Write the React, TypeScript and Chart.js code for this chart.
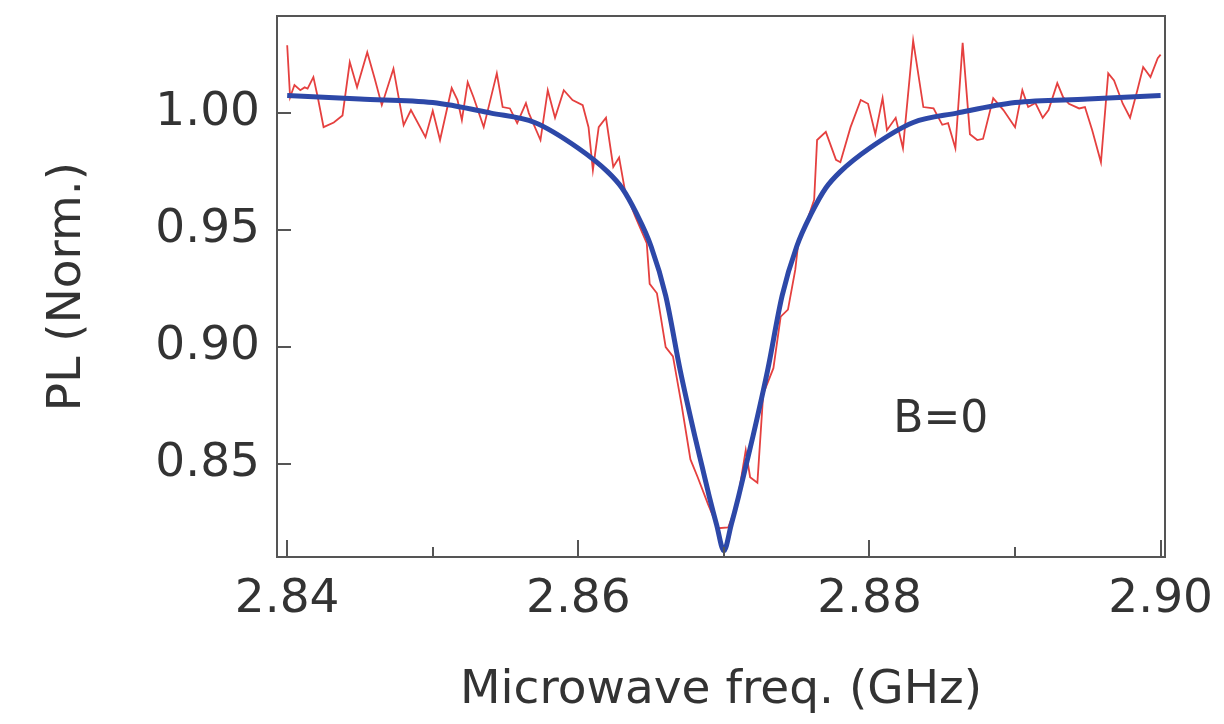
import React, { useEffect, useRef } from "react";
import { Chart, registerables } from "chart.js";

Chart.register(...registerables);

// ---- Data ----
const xTickValues = [2.84, 2.86, 2.88, 2.9];
const xMinorTickValues = [2.85, 2.87, 2.89];
const yTickValues = [0.85, 0.9, 0.95, 1.0];

const measuredFreq = [
  2.84, 2.8402, 2.8405, 2.8409, 2.8412, 2.8414, 2.8418, 2.8421, 2.8425, 2.8432,
  2.8438, 2.8443, 2.8448, 2.8455, 2.846, 2.8465, 2.8473, 2.848, 2.8485, 2.8495,
  2.85, 2.8505, 2.8513, 2.8517, 2.852, 2.8524, 2.8528, 2.8535, 2.8544, 2.8548,
  2.8553, 2.8558, 2.8564, 2.8566, 2.8574, 2.8579, 2.8584, 2.859, 2.8596, 2.8603,
  2.8607, 2.861, 2.8614, 2.8619, 2.8624, 2.8628, 2.8632, 2.8639, 2.8647, 2.8649,
  2.8654, 2.866, 2.8665, 2.8671, 2.8677, 2.8682, 2.8689, 2.8696, 2.8703, 2.8709,
  2.8715, 2.8718, 2.8723, 2.8727, 2.8734, 2.8739, 2.8744, 2.8749, 2.8751, 2.8756,
  2.8762, 2.8764, 2.877, 2.8777, 2.878, 2.8787, 2.8794, 2.8799, 2.8804, 2.8809,
  2.8812, 2.8818, 2.8823, 2.883, 2.8837, 2.8844, 2.885, 2.8854, 2.8859, 2.8864,
  2.8869, 2.8874, 2.8878, 2.8885, 2.8892, 2.89, 2.8905, 2.8909, 2.8914, 2.8919,
  2.8923, 2.8929, 2.8933, 2.8937, 2.8944, 2.8948, 2.8953, 2.8959, 2.8964, 2.8968,
  2.8974, 2.8979, 2.8984, 2.8988, 2.8993, 2.8998, 2.9,
];
const measuredPL = [
  1.029, 1.0068, 1.012, 1.0098, 1.011, 1.0105, 1.0154, 1.0068, 0.994, 0.996,
  0.999, 1.0218, 1.011, 1.026, 1.015, 1.0034, 1.019, 0.9949, 1.0013, 0.9897,
  1.001, 0.9885, 1.0107, 1.0056, 0.997, 1.0132, 1.0068, 0.994, 1.017, 1.0026,
  1.002, 0.9957, 1.0043, 1.0, 0.9885, 1.0098, 0.998, 1.0098, 1.0056, 1.0034,
  0.994, 0.9756, 0.994, 0.998, 0.977, 0.981, 0.967, 0.956, 0.9444, 0.927,
  0.923, 0.9, 0.896, 0.875, 0.852, 0.8444, 0.833, 0.8226, 0.823, 0.833,
  0.856, 0.8444, 0.842, 0.88, 0.891, 0.913, 0.916, 0.933, 0.944, 0.952,
  0.963, 0.9885, 0.992, 0.98, 0.979, 0.994, 1.0056, 1.004, 0.991, 1.0064,
  0.9927, 0.998, 0.985, 1.031, 1.0026, 1.002, 0.995, 0.9957, 0.985, 1.03,
  0.991, 0.9885, 0.989, 1.0064, 1.0013, 0.994, 1.0098, 1.0026, 1.0043, 0.998,
  1.0013, 1.0128, 1.0068, 1.004, 1.002, 1.0026, 0.9927, 0.979, 1.017, 1.014,
  1.004, 0.998, 1.0098, 1.0197, 1.0154, 1.0235, 1.025,
];

const fitFreq = [
  2.84, 2.845, 2.85, 2.854, 2.857, 2.86, 2.862, 2.863, 2.864, 2.865, 2.866,
  2.867, 2.868, 2.8685, 2.869, 2.8695, 2.87, 2.8705, 2.871, 2.8715, 2.872,
  2.873, 2.874, 2.875, 2.876, 2.877, 2.878, 2.88, 2.883, 2.886, 2.89, 2.895, 2.9,
];
const fitPL = [
  1.0075, 1.006, 1.0045, 1.0, 0.996, 0.985, 0.975, 0.968, 0.957, 0.943, 0.922,
  0.89, 0.862, 0.849, 0.836, 0.824, 0.813, 0.824, 0.836, 0.849, 0.862,
  0.89, 0.922, 0.943, 0.957, 0.968, 0.975, 0.985, 0.996, 1.0, 1.0045, 1.006, 1.0075,
];

const annotationLabel = "B=0";
const annotationFreq = 2.8849;
const annotationPL = 0.8684;

const xAxisTitle = "Microwave freq. (GHz)";
const yAxisTitle = "PL (Norm.)";

// ---- Styling ----
const FONT = "'DejaVu Sans', 'Liberation Sans', sans-serif";
const TEXT_COLOR = "#333333";
const FRAME_COLOR = "#555555";

const frameAndTicksPlugin = {
  id: "frameAndTicks",
  afterDraw(chart: any) {
    const { ctx, chartArea, scales } = chart;
    const { left, right, top, bottom } = chartArea;
    ctx.save();
    ctx.strokeStyle = FRAME_COLOR;
    ctx.lineWidth = 2;
    ctx.strokeRect(left, top, right - left, bottom - top);
    xTickValues.forEach((v) => {
      const px = Math.round(scales.x.getPixelForValue(v));
      ctx.beginPath();
      ctx.moveTo(px, bottom);
      ctx.lineTo(px, bottom - 17);
      ctx.stroke();
    });
    xMinorTickValues.forEach((v) => {
      const px = Math.round(scales.x.getPixelForValue(v));
      ctx.beginPath();
      ctx.moveTo(px, bottom);
      ctx.lineTo(px, bottom - 10);
      ctx.stroke();
    });
    yTickValues.forEach((v) => {
      const py = Math.round(scales.y.getPixelForValue(v));
      ctx.beginPath();
      ctx.moveTo(left, py);
      ctx.lineTo(left + 14, py);
      ctx.stroke();
    });
    ctx.fillStyle = TEXT_COLOR;
    ctx.font = `44px ${FONT}`;
    ctx.textAlign = "center";
    ctx.textBaseline = "middle";
    ctx.fillText(
      annotationLabel,
      scales.x.getPixelForValue(annotationFreq),
      scales.y.getPixelForValue(annotationPL)
    );
    ctx.restore();
  },
};

export default function App() {
  const canvasRef = useRef<HTMLCanvasElement | null>(null);

  useEffect(() => {
    const canvas = canvasRef.current;
    if (!canvas) return;

    const measured = measuredFreq.map((f, i) => ({ x: f, y: measuredPL[i] }));
    const fit = fitFreq.map((f, i) => ({ x: f, y: fitPL[i] }));

    const chart = new Chart(canvas, {
      type: "line",
      data: {
        datasets: [
          {
            label: "Fit",
            data: fit,
            borderColor: "#2d48a8",
            borderWidth: 5,
            pointRadius: 0,
            cubicInterpolationMode: "monotone",
            fill: false,
          },
          {
            label: "Measured",
            data: measured,
            borderColor: "#e5403f",
            borderWidth: 1.8,
            pointRadius: 0,
            tension: 0,
            fill: false,
          },
        ],
      },
      options: {
        animation: false,
        responsive: false,
        devicePixelRatio: 1,
        layout: { padding: { left: 0, top: 16, right: 59, bottom: 0 } },
        plugins: {
          legend: { display: false },
          tooltip: { enabled: false },
        },
        scales: {
          x: {
            type: "linear",
            min: 2.8393,
            max: 2.9003,
            grid: { display: false, drawTicks: false },
            border: { display: false },
            afterBuildTicks: (scale: any) => {
              scale.ticks = xTickValues.map((v) => ({ value: v }));
            },
            afterFit: (scale: any) => {
              scale.height = 167;
              scale.paddingLeft = 0;
              scale.paddingRight = 0;
            },
            ticks: {
              autoSkip: false,
              maxRotation: 0,
              padding: 15,
              color: TEXT_COLOR,
              font: { family: FONT, size: 47 },
              callback: (v: any) => Number(v).toFixed(2),
            },
            title: {
              display: true,
              text: xAxisTitle,
              color: TEXT_COLOR,
              font: { family: FONT, size: 47 },
              padding: { top: 0, bottom: 5 },
            },
          },
          y: {
            type: "linear",
            min: 0.8103,
            max: 1.0415,
            grid: { display: false, drawTicks: false },
            border: { display: false },
            afterBuildTicks: (scale: any) => {
              scale.ticks = yTickValues.map((v) => ({ value: v }));
            },
            afterFit: (scale: any) => {
              scale.width = 277;
              scale.paddingTop = 0;
              scale.paddingBottom = 0;
            },
            ticks: {
              autoSkip: false,
              padding: 17,
              color: TEXT_COLOR,
              font: { family: FONT, size: 47 },
              callback: (v: any) => Number(v).toFixed(2),
            },
            title: {
              display: true,
              text: yAxisTitle,
              color: TEXT_COLOR,
              font: { family: FONT, size: 47 },
              padding: { top: 40, bottom: 0 },
            },
          },
        },
      },
      plugins: [frameAndTicksPlugin],
    } as any);

    return () => {
      chart.destroy();
    };
  }, []);

  return (
    <div
      style={{
        position: "absolute",
        left: 0,
        top: 0,
        width: 1224,
        height: 724,
        background: "#ffffff",
      }}
    >
      <canvas
        ref={canvasRef}
        width={1224}
        height={724}
        style={{ display: "block", width: 1224, height: 724 }}
      />
    </div>
  );
}
